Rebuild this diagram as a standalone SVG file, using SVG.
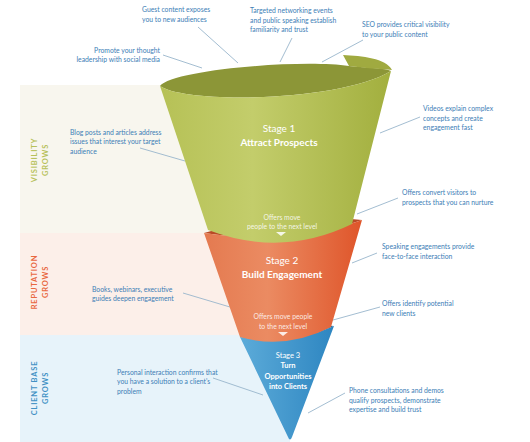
<svg xmlns="http://www.w3.org/2000/svg" width="530" height="442" viewBox="0 0 530 442">
<style>
.ann{font-family:Lato,"Liberation Sans",sans-serif;font-size:6.8px;fill:#3d7eb6}
.ln{stroke:#98b6cc;stroke-width:0.9;fill:none}
.band{font-family:Lato,"Liberation Sans",sans-serif;font-size:7.5px;font-weight:bold;letter-spacing:0.8px;text-anchor:middle}
.st{font-family:Lato,"Liberation Sans",sans-serif;fill:#ffffff;text-anchor:middle}
.t1{font-size:10px}
.t1b{font-size:10px;font-weight:bold}
.sm{font-size:6.8px;fill-opacity:0.85}
.t3{font-size:7.5px}
.t3b{font-size:7.5px;font-weight:bold}
</style>
<defs>
<linearGradient id="gG" x1="0" y1="0" x2="1" y2="0">
<stop offset="0" stop-color="#b6c156"/>
<stop offset="0.4" stop-color="#c3cd6b"/>
<stop offset="1" stop-color="#a2af3e"/>
</linearGradient>
<linearGradient id="gO" x1="0" y1="0" x2="1" y2="0">
<stop offset="0" stop-color="#e47a50"/>
<stop offset="0.4" stop-color="#eb8b62"/>
<stop offset="1" stop-color="#df552a"/>
</linearGradient>
<linearGradient id="gB" x1="0" y1="0" x2="1" y2="0">
<stop offset="0" stop-color="#5cabd9"/>
<stop offset="1" stop-color="#2e86c1"/>
</linearGradient>
</defs>
<rect width="530" height="442" fill="#ffffff"/>
<g id="bands">
<rect x="20" y="85" width="270" height="148" fill="#f8f6ee"/>
<rect x="20" y="233" width="270" height="102" fill="#fcefe9"/>
<rect x="20" y="335" width="270" height="107" fill="#e7f3fa"/>
</g>
<g id="band-labels">
<g id="label-visibility" fill="#b7c15a">
<text class="band" transform="translate(36.5,160) rotate(-90)">VISIBILITY</text>
<text class="band" transform="translate(48.3,160) rotate(-90)">GROWS</text>
</g>
<g id="label-reputation" fill="#e8683f">
<text class="band" transform="translate(36.5,282) rotate(-90)">REPUTATION</text>
<text class="band" transform="translate(48.3,282) rotate(-90)">GROWS</text>
</g>
<g id="label-clientbase" fill="#4191c4">
<text class="band" transform="translate(36.5,388) rotate(-90)">CLIENT BASE</text>
<text class="band" transform="translate(48.3,388) rotate(-90)">GROWS</text>
</g>
</g>
<g id="connectors">
<line class="ln" x1="198" y1="27" x2="238" y2="63"/>
<line class="ln" x1="292" y1="38" x2="280" y2="62"/>
<line class="ln" x1="363" y1="40" x2="322" y2="62"/>
<line class="ln" x1="163" y1="55" x2="202" y2="68"/>
<line class="ln" x1="140" y1="148" x2="185" y2="161"/>
<line class="ln" x1="420" y1="117" x2="380" y2="133"/>
<line class="ln" x1="398" y1="198" x2="357" y2="214"/>
<line class="ln" x1="377" y1="253" x2="352" y2="263"/>
<line class="ln" x1="183" y1="293" x2="230" y2="307"/>
<line class="ln" x1="380" y1="307" x2="333" y2="320"/>
<line class="ln" x1="213" y1="378" x2="263" y2="395"/>
<line class="ln" x1="345" y1="393" x2="308" y2="413"/>
</g>
<g id="stage3">
<path d="M240,337 Q285,320 334,326 Q290,346 240,337 Z" fill="#1f6a9a"/>
<path d="M240,337 Q290,346 334,326 L292,437 Q290,442 288,437 Z" fill="url(#gB)"/>
<text class="st t3" x="288" y="358">Stage 3</text>
<text class="st t3b" x="288" y="368">Turn</text>
<text class="st t3b" x="288" y="379">Opportunities</text>
<text class="st t3b" x="288" y="389">into Clients</text>
</g>
<g id="stage2">
<path d="M204,233 Q280,210 362,220 Q290,246 204,233 Z" fill="#b94a26"/>
<path d="M204,233 Q290,246 362,220 L331,327 Q286,350 240,337 Z" fill="url(#gO)"/>
<text class="st t1" x="282" y="263.5">Stage 2</text>
<text class="st t1b" x="282" y="277.5">Build Engagement</text>
<text class="st sm" x="283" y="319">Offers move people</text>
<text class="st sm" x="283" y="328.5">to the next level</text>
<polygon points="278,332 288,332 283,336" fill="#ffffff" fill-opacity="0.85"/>
</g>
<g id="stage1">
<path d="M160,86 C172,70 300,59 349,66 C370,68 385,68 391,71 C340,102 185,104 160,86 Z" fill="#8c9637"/>
<path d="M349,66 L343,55 C362,56 386,58 392,70 C380,69 365,68 349,66 Z" fill="#a0aa40"/>
<path d="M160,86 C185,104 340,102 391,71 L352,224 Q282,258 208,230 Z" fill="url(#gG)"/>
<text class="st t1" x="279" y="131.5">Stage 1</text>
<text class="st t1b" x="279" y="145.5">Attract Prospects</text>
<text class="st sm" x="282" y="219.5">Offers move</text>
<text class="st sm" x="282" y="228.5">people to the next level</text>
<polygon points="276,232 286,232 281,236" fill="#ffffff" fill-opacity="0.85"/>
</g>
<g id="annotations">
<g id="a-guest"><text class="ann" x="142" y="12">Guest content exposes</text><text class="ann" x="142" y="22">you to new audiences</text></g>
<g id="a-networking"><text class="ann" x="250" y="12.5">Targeted networking events</text><text class="ann" x="250" y="22.5">and public speaking establish</text><text class="ann" x="250" y="32">familiarity and trust</text></g>
<g id="a-seo"><text class="ann" x="362" y="26.5">SEO provides critical visibility</text><text class="ann" x="362" y="36.5">to your public content</text></g>
<g id="a-social"><text class="ann" x="160" y="52.5" text-anchor="end">Promote your thought</text><text class="ann" x="160" y="62" text-anchor="end">leadership with social media</text></g>
<g id="a-blog"><text class="ann" x="70" y="134.5">Blog posts  and articles address</text><text class="ann" x="70" y="144">issues that interest your target</text><text class="ann" x="70" y="153.5">audience</text></g>
<g id="a-videos"><text class="ann" x="423" y="110.5">Videos explain complex</text><text class="ann" x="423" y="120.5">concepts and create</text><text class="ann" x="423" y="130">engagement fast</text></g>
<g id="a-convert"><text class="ann" x="402" y="194.5">Offers convert visitors to</text><text class="ann" x="402" y="204.5">prospects that you can nurture</text></g>
<g id="a-speaking"><text class="ann" x="382" y="248.5">Speaking engagements provide</text><text class="ann" x="382" y="258.5">face-to-face interaction</text></g>
<g id="a-books"><text class="ann" x="92" y="291.5">Books, webinars, executive</text><text class="ann" x="92" y="301">guides deepen engagement</text></g>
<g id="a-identify"><text class="ann" x="382" y="305.5">Offers identify potential</text><text class="ann" x="382" y="315.5">new clients</text></g>
<g id="a-personal"><text class="ann" x="117" y="374.5">Personal interaction confirms that</text><text class="ann" x="117" y="384">you have a solution to a client's</text><text class="ann" x="117" y="393.5">problem</text></g>
<g id="a-phone"><text class="ann" x="349" y="392.5">Phone consultations and demos</text><text class="ann" x="349" y="402.5">qualify prospects, demonstrate</text><text class="ann" x="349" y="412">expertise and build trust</text></g>
</g>
</svg>
